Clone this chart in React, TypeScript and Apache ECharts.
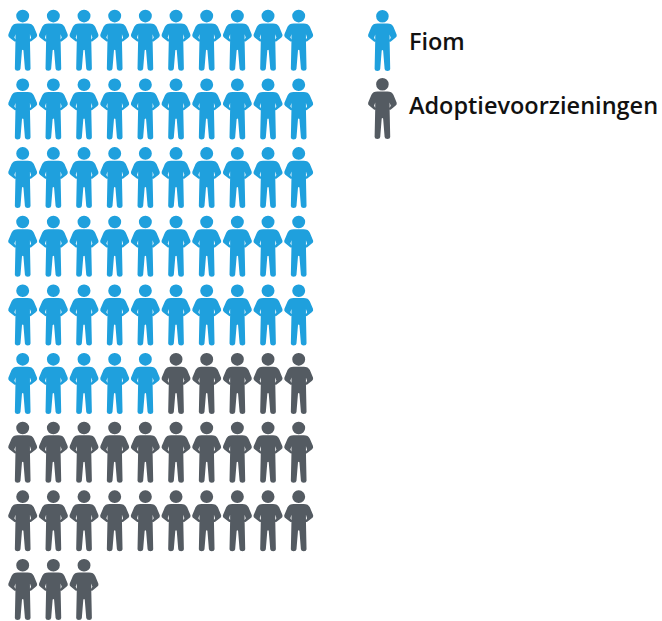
import React, { useEffect, useRef } from "react";
import * as echarts from "echarts";

const categories = ["Fiom", "Adoptievoorzieningen"];
const counts = [55, 28];
const colors = ["#1FA0DD", "#545B62"];
const perRow = 10;

const person =
  "path://M14.5 0a6.3 6.3 0 1 1 0 12.6a6.3 6.3 0 1 1 0-12.6Z" +
  "M9.5 13.6L19.5 13.6Q24 13.6 25.6 17L28.7 24.4Q29.4 26.4 27.8 27.6L23 31.4Q22 32.2 21.7 31.2L21.5 30.2L22.8 27.8L21.7 24.5L21.7 31L22.3 59Q22.2 61 19.6 61Q16.9 61 16.7 59L15.2 40.5Q14.5 39.5 13.8 40.5L12.3 59Q12.1 61 9.4 61Q6.8 61 6.7 59L7.3 31L7.3 24.5L6.2 27.8L7.5 30.2L7.3 31.2Q7 32.2 6 31.4L1.2 27.6Q-0.4 26.4 0.3 24.4L3.4 17Q5 13.6 9.5 13.6Z";

function cells(start: number, count: number): number[][] {
  const out: number[][] = [];
  for (let i = start; i < start + count; i++) {
    out.push([i % perRow, Math.floor(i / perRow)]);
  }
  return out;
}

export default function App() {
  const ref = useRef<HTMLDivElement>(null);
  useEffect(() => {
    document.body.style.margin = "0";
    const chart = echarts.init(ref.current!, null, { renderer: "svg" });
    let offset = 0;
    const series = categories.map((name, k) => {
      const data = cells(offset, counts[k]);
      offset += counts[k];
      return {
        name,
        type: "scatter",
        data,
        symbol: person,
        symbolSize: [29, 61],
        symbolKeepAspect: false,
        itemStyle: { color: colors[k], opacity: 1 },
        silent: true,
      };
    });
    const font = { fontFamily: "Open Sans", fontSize: 23.5, fontWeight: 600, color: "#111111" };
    chart.setOption({
      animation: false,
      backgroundColor: "#fff",
      grid: { left: 22.7, top: 40.3, width: 276, height: 549.2 },
      xAxis: { type: "value", min: 0, max: 9, show: false },
      yAxis: { type: "value", min: 0, max: 8, inverse: true, show: false },
      legend: {
        orient: "vertical",
        left: 368,
        top: 10,
        padding: 0,
        itemWidth: 29,
        itemHeight: 61,
        itemGap: 7,
        selectedMode: false,
        data: categories.map((name) => ({ name, icon: person })),
        formatter: (name: string) => (name === categories[1] ? `{up|${name}}` : name),
        textStyle: {
          ...font,
          padding: [0, 0, 0, 7],
          rich: { up: { ...font, padding: [0, 0, 8, 0] } },
        },
      },
      series,
    });
    return () => chart.dispose();
  }, []);
  return <div ref={ref} style={{ width: 662, height: 621 }} />;
}
